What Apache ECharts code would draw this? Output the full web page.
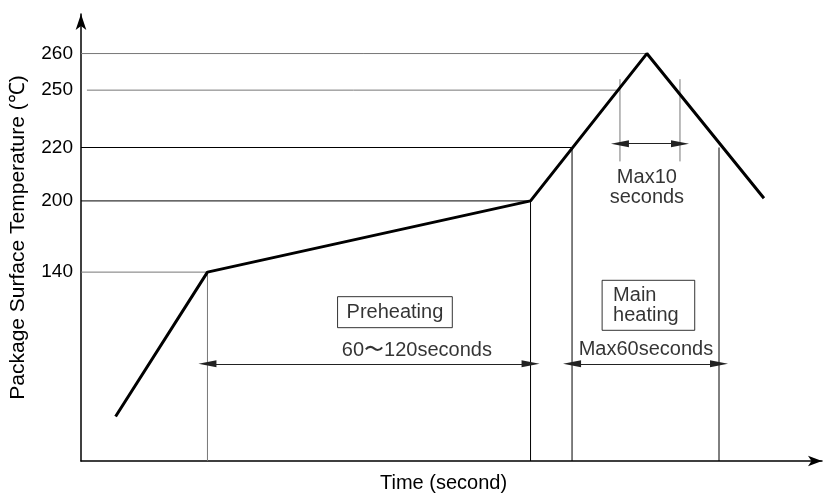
<!DOCTYPE html>
<html>
<head>
<meta charset="utf-8">
<script src="https://cdn.jsdelivr.net/npm/echarts@6/dist/echarts.min.js"></script>
<style>html,body{margin:0;padding:0;background:#fff}#c{width:826px;height:498px}</style>
</head>
<body>
<div id="c"></div>
<script>
// ---- data (time in seconds, temperature in °C) ----
const profileTime = [14, 51.2, 182, 229.1, 276.5];
const profileTemp = [33, 140, 200, 260, 201];

const yTicks = [140, 200, 220, 250, 260];
const refLineTemp = [140, 200, 220, 250, 260];
const refLineStart = [0, 0, 0, 2.4, 0];
const refLineEnd = [51.2, 182, 198.8, 218.2, 229.1];

const vertTime = [51.2, 182, 198.8, 258.3, 218.2, 242.5];
const vertFrom = [0, 0, 0, 0, 214.8, 253];
const vertTo = [140, 200, 220, 220, 253, 214.8];

const dimFrom = [51.2, 198.8, 218.2];
const dimTo = [182, 258.3, 242.5];
const dimTemp = [72, 72, 222];

const textLabels = ['Preheating', '60〜120seconds', 'Main\nheating', 'Max60seconds', 'Max10\nseconds'];
const textTime = [127.1, 136, 229.6, 228.7, 229.1];
const textTemp = [110.3, 82, 115.4, 82.8, 205.2];

// ---- schematic (non-linear) temperature scale ----
const scaleTemps = [0, 140, 200, 220, 250, 260, 271];
const scaleUnits = [0, 191, 263, 317, 375, 412, 452];
function mapT(t) {
  for (let i = 1; i < scaleTemps.length; i++) {
    if (t <= scaleTemps[i] || i === scaleTemps.length - 1) {
      const a = scaleTemps[i - 1], b = scaleTemps[i];
      return scaleUnits[i - 1] + (t - a) / (b - a) * (scaleUnits[i] - scaleUnits[i - 1]);
    }
  }
}
function unmapT(u) {
  for (let i = 1; i < scaleUnits.length; i++) {
    if (u <= scaleUnits[i] + 1e-6 || i === scaleUnits.length - 1) {
      const a = scaleUnits[i - 1], b = scaleUnits[i];
      return scaleTemps[i - 1] + (u - a) / (b - a) * (scaleTemps[i] - scaleTemps[i - 1]);
    }
  }
}

const FONT = '"Liberation Sans", Arial, sans-serif';
const gray = '#777';
const refColors = [gray, '#000', '#000', gray, gray];
const vertColors = [gray, '#000', '#000', '#000', gray, gray];

const series = [];
refLineTemp.forEach((t, i) => {
  series.push({
    type: 'line', silent: true, symbol: 'none', z: 2,
    lineStyle: { color: refColors[i], width: 1 },
    data: [[refLineStart[i], mapT(t)], [refLineEnd[i], mapT(t)]]
  });
});
vertTime.forEach((x, i) => {
  series.push({
    type: 'line', silent: true, symbol: 'none', z: 2,
    lineStyle: { color: vertColors[i], width: 1 },
    data: [[x, mapT(vertFrom[i])], [x, mapT(vertTo[i])]]
  });
});
series.push({
  type: 'line', silent: true, symbol: 'none', z: 3, data: [],
  markLine: {
    silent: true,
    symbol: ['triangle', 'triangle'],
    symbolSize: [7, 18],
    label: { show: false },
    lineStyle: { color: '#222', width: 1, type: 'solid' },
    emphasis: { disabled: true },
    data: dimFrom.map((f, i) => [
      { coord: [f, mapT(dimTemp[i])], itemStyle: { color: '#000' } },
      { coord: [dimTo[i], mapT(dimTemp[i])] }
    ])
  }
});
series.push({
  type: 'line', silent: true, symbol: 'none', z: 5,
  lineStyle: { color: '#000', width: 3 },
  data: profileTime.map((t, i) => [t, mapT(profileTemp[i])])
});
const boxed = [true, false, true, false, false];
series.push({
  type: 'scatter', silent: true, symbolSize: 0, z: 6,
  data: textLabels.map((s, i) => ({
    value: [textTime[i], mapT(textTemp[i])],
    label: {
      show: true, position: 'inside', formatter: s,
      color: '#000', fontFamily: FONT, fontSize: 20, lineHeight: 20,
      align: 'center', verticalAlign: 'middle',
      borderColor: boxed[i] ? '#000' : 'transparent',
      borderWidth: boxed[i] ? 1 : 0,
      padding: i === 0 ? [6, 9, 5, 9] : (i === 2 ? [5, 16, 5, 11] : 0)
    }
  }))
});
// left-align text inside Main heating box
series[series.length - 1].data[2].label.align = 'left';
series[series.length - 1].data[2].label.offset = [-46, 0];

const chart = echarts.init(document.getElementById('c'), null, { renderer: 'canvas' });
chart.setOption({
  animation: false,
  backgroundColor: '#fff',
  grid: { left: 81, right: 4, top: 14, bottom: 32, containLabel: false },
  xAxis: {
    type: 'value', min: 0, max: 300,
    name: 'Time (second)', nameLocation: 'middle', nameGap: 12,
    nameTextStyle: { fontFamily: FONT, fontSize: 20, color: '#000', padding: [0, 16, 0, 0] },
    axisLine: { show: true, symbol: ['none', 'arrow'], symbolSize: [8, 14], lineStyle: { color: '#000', width: 1.5 } },
    axisTick: { show: false }, axisLabel: { show: false }, splitLine: { show: false }
  },
  yAxis: {
    type: 'value', min: 0, max: 452,
    name: 'Package Surface Temperature (℃)', nameLocation: 'middle', nameGap: 52, nameRotate: 90,
    nameTextStyle: { fontFamily: FONT, fontSize: 21, color: '#000' },
    axisLine: { show: true, symbol: ['none', 'arrow'], symbolSize: [8, 16], lineStyle: { color: '#000', width: 1.5 } },
    axisTick: { show: false },
    axisLabel: {
      show: true, margin: 8, fontFamily: FONT, fontSize: 19, color: '#000',
      customValues: yTicks.map(mapT),
      formatter: v => String(Math.round(unmapT(v)))
    },
    splitLine: { show: false }
  },
  series: series
});
</script>
</body>
</html>
